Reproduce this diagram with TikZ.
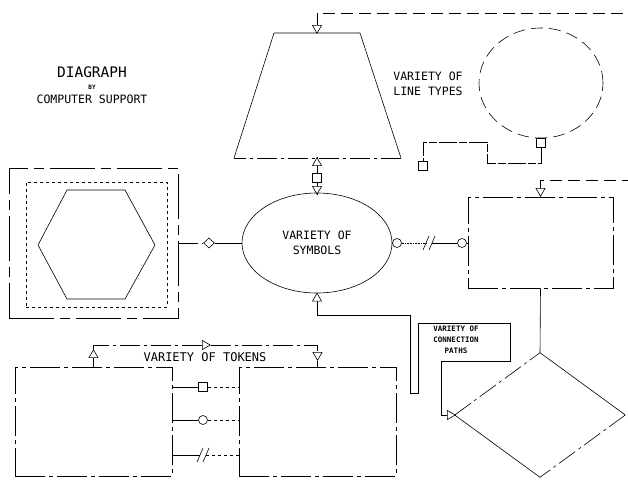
\documentclass[tikz,border=0pt]{standalone}
\usepackage{fontspec}
\setmainfont{DejaVu Sans Mono}
\usetikzlibrary{shapes.geometric,positioning}

\tikzset{
  pics/brk/.style={code={
    \draw (-6,7) -- (0,-7) (0,7) -- (6,-7);
    \coordinate (-l) at (-3,0);
    \coordinate (-r) at (3,0);
  }}
}

\begin{document}
\begin{tikzpicture}[x=1pt,y=-1pt,line width=0.6pt,
  tri/.style={draw,regular polygon,regular polygon sides=3,minimum size=10.5pt,inner sep=0pt},
  tridown/.style={tri,shape border rotate=180},
  triright/.style={tri,shape border rotate=-90},
  sq/.style={draw,rectangle,minimum size=9pt,inner sep=0pt},
  ring/.style={draw,circle,minimum size=9pt,inner sep=0pt},
  dmd/.style={draw,diamond,minimum width=11pt,minimum height=10pt,inner sep=0pt},
  box/.style={draw,dash pattern=on 30pt off 4pt on 4pt off 4pt,inner sep=0pt},
  longdash/.style={dash pattern=on 12pt off 6pt},
  dashdot/.style={dash pattern=on 20pt off 4pt on 3pt off 4pt},
  lbl/.style={font=\fontsize{11.5}{15}\selectfont,align=center,inner sep=0pt}]
\useasboundingbox (0,0) rectangle (628,482);

% title
\node[font=\fontsize{14.5}{16}\selectfont] (title) at (92,72) {DIAGRAPH};
\node[font=\bfseries\fontsize{6}{7}\selectfont] (by) at (92,87) {BY};
\node[font=\fontsize{11.5}{14}\selectfont] (support) at (92,99) {COMPUTER SUPPORT};

% trapezoid and top line
\coordinate (trapTop) at (317,33);
\coordinate (trapBot) at (317,158);
\draw (234,158) -- (274,33) -- (360,33) -- (401,158);
\draw[dashdot] (401,158) -- (234,158);
\node[tridown] (tA) at (317,28) {};
\coordinate (edgeT) at (628,13);
\draw[longdash] (tA) |- (edgeT);

% line types
\node[lbl] (types) at (428,83.5) {VARIETY OF\\LINE TYPES};
\node[draw,ellipse,longdash,minimum width=124pt,minimum height=110pt] (loop) at (541,83) {};
\node[sq] (sL) at (541,143) {};
\node[sq] (sK) at (423,166) {};
\draw[dash pattern=on 18pt off 2pt on 8pt off 2pt] (sL) |- (487,163) |- (423,142) -- (sK);

% symbols
\node[draw,ellipse,minimum width=150pt,minimum height=100pt,lbl] (symbols) at (317,243) {VARIETY OF\\SYMBOLS};
\node[tri] (tC) at (317,163) {};
\node[sq] (sC) at (317,177.5) {};
\node[tridown] (tD) at (317,189) {};
\draw (trapBot) -- (tC) -- (sC) -- (tD) -- (symbols);

% hexagon
\node[box,dash pattern=on 45pt off 6pt on 10pt off 6pt,minimum width=169pt,minimum height=150pt] (frame) at (93.5,243) {};
\node[draw,dashed,inner sep=0pt,minimum width=141pt,minimum height=125pt] (inner) at (96.5,244.5) {};
\draw (38,245) -- (67,190) -- (125,190) -- (155,245) -- (125,299) -- (67,299) -- cycle;
\node[dmd] (dm) at (209,243) {};
\draw[dashdot] (frame.east) -- (dm);
\draw (dm) -- (symbols);

% right box
\node[box,minimum width=145pt,minimum height=91pt] (boxR) at (540.5,242.5) {};
\node[ring] (cA) at (397,243) {};
\pic (bR) at (429,243) {brk};
\node[ring] (cB) at (462,243) {};
\draw (symbols) -- (cA);
\draw[densely dotted] (cA) -- (bR-l);
\draw (bR-r) -- (cB) -- (boxR.west |- cB);
\node[tridown] (tB) at (540.5,191) {};
\coordinate (edgeR) at (628,180);
\draw[longdash] (tB) |- (edgeR);
\draw (tB) -- (boxR.north);

% diamond
\node[diamond,minimum width=170pt,minimum height=124pt,inner sep=0pt] (dia) at (540,415) {};
\draw (dia.north) -- (dia.east);
\draw[dashdot] (dia.east) -- (dia.south);
\draw (dia.south) -- (dia.west);
\draw[dashdot] (dia.west) -- (dia.north);
\draw (boxR.south) -- (dia.north);

% connection paths
\node[font=\bfseries\fontsize{7.5}{11}\selectfont,align=center,inner sep=0pt] (paths) at (456,340) {VARIETY OF\\CONNECTION\\PATHS};
\node[tri] (tE) at (317,298.5) {};
\node[triright] (tF) at (450,415) {};
\draw (tE) |- (410,315) -- (410,393) -- (418,393) -- (418,323) -- (510,323) -- (510,361) -- (441,361) |- (tF);

% tokens
\node[box,minimum width=157pt,minimum height=109pt] (tokA) at (93.5,421.5) {};
\node[box,minimum width=157pt,minimum height=109pt] (tokB) at (317.5,421.5) {};
\node[lbl,font=\fontsize{12}{14}\selectfont] (tokens) at (205,357) {VARIETY OF TOKENS};
\node[sq] (sT) at (203,387) {};
\node[ring] (cT) at (203,420) {};
\pic (bT) at (203,455) {brk};
\draw (tokA.east |- sT) -- (sT);
\draw[dashed] (sT) -- (tokB.west |- sT);
\draw (tokA.east |- cT) -- (cT);
\draw[dashed] (cT) -- (tokB.west |- cT);
\draw (tokA.east |- bT-l) -- (bT-l);
\draw[dashed] (bT-r) -- (tokB.west |- bT-r);
\node[tri] (tG) at (93.5,355) {};
\node[triright] (tH) at (205,345) {};
\node[tridown] (tI) at (317.5,355) {};
\draw (tG) -- (tokA.north);
\draw[dashdot] (tG) |- (tH);
\draw[dashdot] (tH) -| (tI);
\draw (tI) -- (tokB.north);
\end{tikzpicture}
\end{document}
